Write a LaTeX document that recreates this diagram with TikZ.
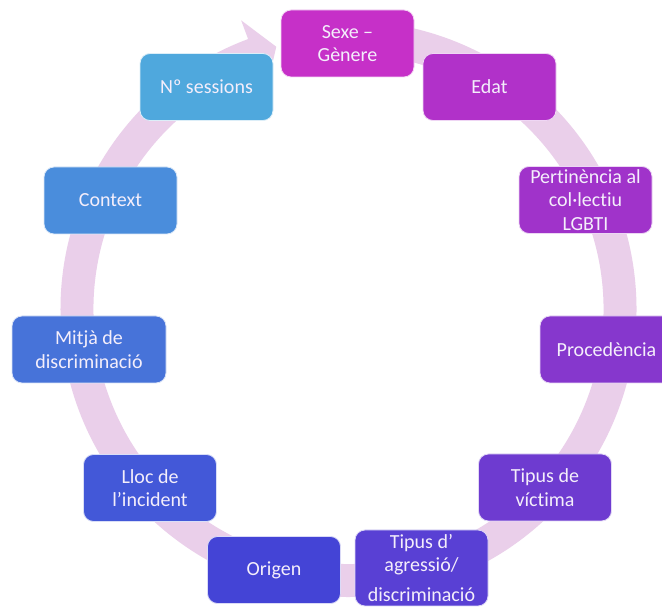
\documentclass[tikz,border=0pt]{standalone}
\usepackage{fontspec}
\setmainfont[Ligatures={NoCommon,NoRare}]{Carlito}
\definecolor{ringc}{HTML}{EACFEA}
\definecolor{txt}{HTML}{F4EEFB}
\definecolor{c1}{HTML}{C630C8}
\definecolor{c2}{HTML}{B131C9}
\definecolor{c3}{HTML}{A033CA}
\definecolor{c4}{HTML}{8637CD}
\definecolor{c5}{HTML}{6E3BD0}
\definecolor{c6}{HTML}{5940D4}
\definecolor{c7}{HTML}{4444D6}
\definecolor{c8}{HTML}{4358D8}
\definecolor{c9}{HTML}{4773D9}
\definecolor{c10}{HTML}{4A8DDC}
\definecolor{c11}{HTML}{4FA8DD}
\tikzset{
  box/.style={rounded corners=10pt, draw=white!80!#1, line width=0.8pt, fill=#1,
    minimum width=133pt, minimum height=67pt, inner sep=0pt, align=center,
    text=txt, font=\fontsize{20}{23.5}\selectfont}
}
\begin{document}
\begin{tikzpicture}[x=1pt,y=1pt]
\useasboundingbox (0,0) rectangle (662,608);
\clip (0,0) rectangle (662,608);
\fill[white] (0,0) rectangle (662,608);
% ring arrow
\begin{scope}[shift={(348.5,299)}]
\fill[ringc] (95:288) arc[start angle=95, end angle=-249.6, radius=288]
  -- (110.4:308) -- (105.4:272) -- (110.4:235) -- (110.4:255)
  arc[start angle=-249.6, end angle=95, radius=255] -- cycle;
\end{scope}
% boxes
\node[box=c1] (sexe) at (347.5,564.5) {Sexe –\\Gènere};
\node[box=c2] (edat) at (489.5,521) {Edat};
\node[box=c3] (pert) at (585.5,408) {Pertinència al\\col·lectiu\\LGBTI};
\node[box=c4] (proc) at (606.5,258.5) {Procedència};
\node[box=c5] (vict) at (545,120.5) {Tipus de\\víctima};
\node[box=c6, minimum height=76pt] (agre) at (421.5,40) {Tipus d’\\agressió/\\[6pt]discriminació};
\node[box=c7] (orig) at (274,38) {Origen};
\node[box=c8] (lloc) at (150,120) {Lloc de\\l’incident};
\node[box=c9, minimum width=154pt] (mitja) at (89,258.5) {Mitjà de\\discriminació};
\node[box=c10] (ctx) at (110.5,407.5) {Context};
\node[box=c11] (ses) at (206.5,521) {Nº sessions};
\end{tikzpicture}
\end{document}
